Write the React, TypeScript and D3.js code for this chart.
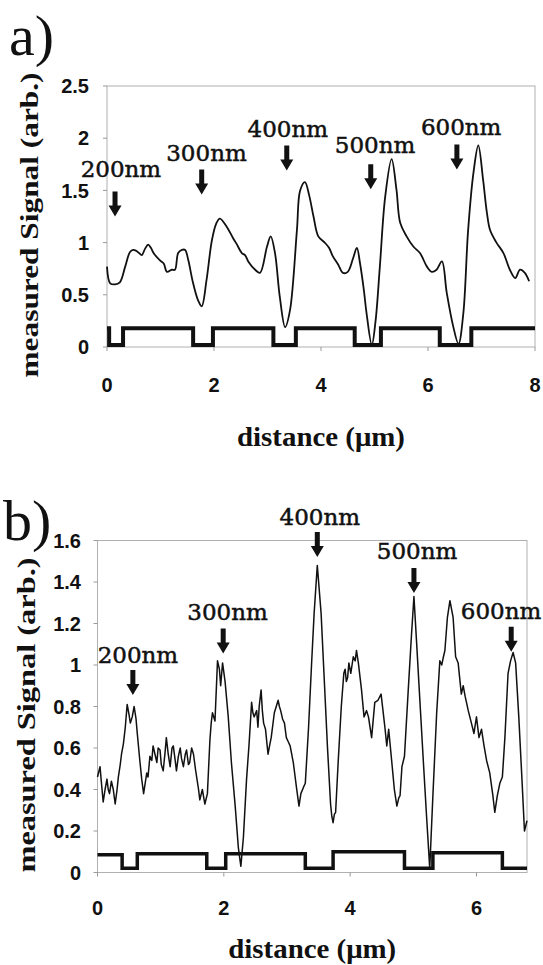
import * as d3 from "d3";

// ---- panel a) ----
const topDist = [0.00,0.06,0.15,0.24,0.34,0.43,0.49,0.55,0.60,0.65,0.71,0.77,0.82,0.87,0.99,1.06,1.12,1.21,1.27,1.33,1.40,1.46,1.52,1.61,1.70,1.77,1.86,1.96,2.04,2.11,2.24,2.36,2.42,2.52,2.58,2.64,2.77,2.86,2.99,3.06,3.14,3.23,3.33,3.42,3.55,3.61,3.70,3.78,3.86,3.95,4.07,4.15,4.22,4.32,4.41,4.50,4.60,4.67,4.73,4.80,4.85,4.95,5.02,5.10,5.20,5.32,5.41,5.48,5.60,5.73,5.85,5.98,6.07,6.16,6.26,6.35,6.47,6.57,6.66,6.75,6.85,6.94,7.03,7.10,7.16,7.28,7.41,7.53,7.63,7.72,7.81,7.89];
const topSignal = [0.77,0.61,0.60,0.62,0.77,0.91,0.93,0.92,0.90,0.88,0.94,0.98,0.95,0.90,0.83,0.80,0.72,0.74,0.74,0.90,0.93,0.93,0.83,0.61,0.45,0.39,0.64,1.02,1.18,1.23,1.15,1.04,0.99,0.90,0.88,0.82,0.74,0.71,0.96,1.06,0.90,0.48,0.19,0.35,1.12,1.50,1.58,1.45,1.25,1.06,1.00,0.95,0.87,0.79,0.71,0.72,0.85,0.95,0.80,0.55,0.33,0.02,0.25,0.77,1.44,1.80,1.51,1.19,1.06,0.96,0.90,0.77,0.72,0.74,0.82,0.52,0.20,0.03,0.32,1.12,1.67,1.93,1.60,1.29,1.12,1.00,0.90,0.74,0.66,0.74,0.71,0.63];
const topStepX = [0, 0.04, 0.30, 1.61, 1.98, 3.11, 3.53, 4.63, 5.12, 6.22, 6.81, 8];
const topStepY = [0.18, 0.02, 0.18, 0.02, 0.18, 0.02, 0.18, 0.02, 0.18, 0.02, 0.18, 0.18];
const topYTicks = [0, 0.5, 1, 1.5, 2, 2.5];
const topXTicks = [0, 2, 4, 6, 8];
const topMarks = ["200nm", "300nm", "400nm", "500nm", "600nm"];
const topArrowX = [0.15, 1.77, 3.36, 4.93, 6.54];
const topArrowY = [1.25, 1.46, 1.69, 1.51, 1.70];
const topLabelX = [0.26, 1.86, 3.38, 5.01, 6.62];
const topLabelY = [1.63, 1.78, 2.01, 1.86, 2.03];

// ---- panel b) ----
const botDist = [0.00,0.04,0.06,0.09,0.12,0.15,0.17,0.19,0.22,0.25,0.28,0.31,0.33,0.36,0.38,0.41,0.44,0.47,0.50,0.52,0.55,0.58,0.61,0.63,0.67,0.70,0.73,0.76,0.78,0.80,0.83,0.86,0.88,0.91,0.94,0.96,0.99,1.01,1.04,1.07,1.09,1.12,1.15,1.18,1.20,1.23,1.25,1.28,1.31,1.33,1.36,1.39,1.41,1.44,1.46,1.49,1.52,1.55,1.57,1.60,1.62,1.66,1.70,1.74,1.78,1.80,1.82,1.86,1.90,1.93,1.95,1.98,2.02,2.07,2.12,2.18,2.23,2.27,2.31,2.36,2.40,2.44,2.46,2.48,2.52,2.54,2.56,2.59,2.61,2.63,2.66,2.70,2.73,2.75,2.80,2.83,2.86,2.88,2.90,2.93,2.96,2.99,3.02,3.05,3.10,3.15,3.19,3.22,3.26,3.29,3.34,3.39,3.43,3.48,3.54,3.59,3.64,3.69,3.71,3.73,3.75,3.77,3.81,3.86,3.90,3.92,3.94,3.96,3.98,4.01,4.03,4.05,4.08,4.10,4.13,4.18,4.22,4.26,4.29,4.34,4.39,4.44,4.49,4.52,4.55,4.58,4.61,4.66,4.70,4.74,4.77,4.79,4.82,4.86,4.92,4.97,5.01,5.05,5.10,5.16,5.21,5.26,5.31,5.37,5.42,5.45,5.47,5.50,5.54,5.58,5.63,5.67,5.71,5.73,5.76,5.79,5.82,5.87,5.92,5.96,6.00,6.04,6.08,6.12,6.16,6.21,6.26,6.29,6.33,6.37,6.41,6.45,6.50,6.54,6.58,6.62,6.67,6.72,6.76,6.80];
const botSignal = [0.46,0.51,0.44,0.34,0.40,0.45,0.40,0.38,0.44,0.40,0.33,0.40,0.46,0.52,0.57,0.62,0.70,0.81,0.76,0.72,0.75,0.80,0.74,0.67,0.54,0.45,0.38,0.44,0.48,0.46,0.56,0.54,0.61,0.57,0.53,0.60,0.59,0.52,0.49,0.58,0.65,0.57,0.51,0.60,0.61,0.54,0.49,0.56,0.60,0.55,0.51,0.57,0.59,0.52,0.53,0.60,0.57,0.50,0.46,0.40,0.35,0.40,0.33,0.38,0.64,0.72,0.77,0.73,1.02,0.98,0.90,1.01,0.92,0.75,0.53,0.32,0.12,0.03,0.17,0.45,0.62,0.82,0.77,0.75,0.78,0.70,0.80,0.88,0.78,0.72,0.69,0.57,0.62,0.65,0.77,0.80,0.83,0.80,0.78,0.74,0.72,0.65,0.63,0.61,0.53,0.41,0.32,0.38,0.41,0.43,0.69,1.01,1.25,1.48,1.25,0.93,0.61,0.33,0.27,0.24,0.28,0.29,0.53,0.80,0.96,0.98,0.92,0.94,1.01,0.96,1.00,1.04,1.02,1.07,1.01,0.88,0.75,0.78,0.75,0.65,0.82,0.83,0.86,0.78,0.70,0.61,0.69,0.53,0.40,0.32,0.36,0.37,0.51,0.56,0.88,1.14,1.33,1.12,0.85,0.53,0.27,0.02,0.37,0.77,1.02,1.00,1.03,1.07,1.23,1.31,1.23,1.04,1.01,0.95,0.86,0.90,0.85,0.78,0.72,0.67,0.75,0.65,0.69,0.61,0.54,0.48,0.37,0.29,0.37,0.43,0.46,0.65,0.96,1.02,1.06,1.01,0.75,0.45,0.20,0.25];
const botStepX = [0, 0.39, 0.63, 1.73, 2.03, 3.29, 3.73, 4.86, 5.31, 6.41, 6.8];
const botStepY = [0.085, 0.02, 0.09, 0.02, 0.09, 0.02, 0.1, 0.02, 0.095, 0.02, 0.02];
const botYTicks = [0, 0.2, 0.4, 0.6, 0.8, 1, 1.2, 1.4, 1.6];
const botXTicks = [0, 2, 4, 6];
const botMarks = ["200nm", "300nm", "400nm", "500nm", "600nm"];
const botArrowX = [0.56, 1.99, 3.48, 5.01, 6.55];
const botArrowY = [0.855, 1.056, 1.52, 1.347, 1.064];
const botLabelX = [0.64, 2.06, 3.52, 5.06, 6.39];
const botLabelY = [1.01, 1.217, 1.675, 1.51, 1.22];

const sansBold = "'Liberation Sans', Arial, sans-serif";
const serif = "'Liberation Serif', 'Times New Roman', serif";

function arrowPath(px: number, py: number) {
  // tip at (px, py), pointing down
  return `M${px - 2.5},${py - 25} L${px + 2.5},${py - 25} L${px + 2.5},${py - 11} L${px + 6.5},${py - 11} L${px},${py} L${px - 6.5},${py - 11} L${px - 2.5},${py - 11} Z`;
}

type PanelProps = {
  dist: number[];
  signal: number[];
  stepX: number[];
  stepY: number[];
  xMax: number;
  yMax: number;
  xRange: [number, number];
  yRange: [number, number];
  xTicks: number[];
  yTicks: number[];
  marks: string[];
  arrowX: number[];
  arrowY: number[];
  labelX: number[];
  labelY: number[];
  smooth: boolean;
  tag: string;
  tagX: number;
  tagY: number;
  yTitleX: number;
  yTitleMid: number;
  yTitleLen: number;
  xTitleY: number;
  xTickY: number;
  yTickRight: number;
  stepWidth: number;
  lineWidth: number;
};

function Panel(p: PanelProps) {
  const x = d3.scaleLinear().domain([0, p.xMax]).range(p.xRange);
  const y = d3.scaleLinear().domain([0, p.yMax]).range(p.yRange);
  const pts = p.dist.map((d, i) => [d, p.signal[i]] as [number, number]);
  const line = d3
    .line<[number, number]>()
    .x((d) => x(d[0]))
    .y((d) => y(d[1]));
  if (p.smooth) line.curve(d3.curveCatmullRom.alpha(0.5));
  const stepPts = p.stepX.map((d, i) => [d, p.stepY[i]] as [number, number]);
  const step = d3
    .line<[number, number]>()
    .x((d) => x(d[0]))
    .y((d) => y(d[1]))
    .curve(d3.curveStepAfter);
  const [x0, x1] = p.xRange;
  const [y0, y1] = p.yRange;
  return (
    <g>
      <text x={p.tagX} y={p.tagY} fontFamily={serif} fontSize={58} fill="#111">
        {p.tag}
      </text>
      {/* frame */}
      <rect x={x0} y={y1} width={x1 - x0} height={y0 - y1} fill="none" stroke="#b0b0b0" strokeWidth={1} />
      {p.yTicks.map((t) => (
        <g key={"y" + t}>
          <line x1={x0 - 4} x2={x0} y1={y(t)} y2={y(t)} stroke="#999" />
          <text
            x={p.yTickRight}
            y={y(t)}
            dy="0.36em"
            textAnchor="end"
            fontFamily={sansBold}
            fontWeight="bold"
            fontSize={20}
            fill="#111"
          >
            {t}
          </text>
        </g>
      ))}
      {p.xTicks.map((t) => (
        <g key={"x" + t}>
          <line x1={x(t)} x2={x(t)} y1={y0} y2={y0 + 4} stroke="#999" />
          <text
            x={x(t)}
            y={p.xTickY}
            dy="0.36em"
            textAnchor="middle"
            fontFamily={sansBold}
            fontWeight="bold"
            fontSize={20}
            fill="#111"
          >
            {t}
          </text>
        </g>
      ))}
      <path d={step(stepPts) || ""} fill="none" stroke="#111" strokeWidth={p.stepWidth} />
      <path d={line(pts) || ""} fill="none" stroke="#111" strokeWidth={p.lineWidth} strokeLinejoin="round" />
      {p.marks.map((m, i) => (
        <g key={m}>
          <path d={arrowPath(x(p.arrowX[i]), y(p.arrowY[i]))} fill="#111" />
          <text
            x={x(p.labelX[i])}
            y={y(p.labelY[i])}
            textAnchor="middle"
            fontFamily="'DejaVu Serif', serif"
            fontSize={23}
            fill="#111"
            stroke="#111"
            strokeWidth={0.5}
          >
            {m}
          </text>
        </g>
      ))}
      <text
        transform={`translate(${p.yTitleX},${p.yTitleMid}) rotate(-90)`}
        textAnchor="middle"
        fontFamily={serif}
        fontWeight="bold"
        fontSize={26}
        textLength={p.yTitleLen}
        lengthAdjust="spacingAndGlyphs"
        fill="#111"
      >
        measured Signal (arb.)
      </text>
      <text
        x={(x0 + x1) / 2}
        y={p.xTitleY}
        textAnchor="middle"
        fontFamily={serif}
        fontWeight="bold"
        fontSize={28}
        textLength={168}
        lengthAdjust="spacingAndGlyphs"
        fill="#111"
      >
        distance (μm)
      </text>
    </g>
  );
}

export default function App() {
  return (
    <svg
      width={543}
      height={965}
      style={{ position: "absolute", left: 0, top: 0, background: "#fff" }}
    >
      <rect width={543} height={965} fill="#fff" />
      <Panel
        dist={topDist}
        signal={topSignal}
        stepX={topStepX}
        stepY={topStepY}
        xMax={8}
        yMax={2.5}
        xRange={[107, 535]}
        yRange={[347, 86]}
        xTicks={topXTicks}
        yTicks={topYTicks}
        marks={topMarks}
        arrowX={topArrowX}
        arrowY={topArrowY}
        labelX={topLabelX}
        labelY={topLabelY}
        smooth={true}
        tag="a)"
        tagX={9}
        tagY={55}
        yTitleX={38}
        yTitleMid={225}
        yTitleLen={305}
        xTitleY={446}
        xTickY={385}
        yTickRight={89}
        stepWidth={4}
        lineWidth={1.8}
      />
      <Panel
        dist={botDist}
        signal={botSignal}
        stepX={botStepX}
        stepY={botStepY}
        xMax={6.8}
        yMax={1.6}
        xRange={[97.5, 527]}
        yRange={[872.5, 540.5]}
        xTicks={botXTicks}
        yTicks={botYTicks}
        marks={botMarks}
        arrowX={botArrowX}
        arrowY={botArrowY}
        labelX={botLabelX}
        labelY={botLabelY}
        smooth={false}
        tag="b)"
        tagX={3}
        tagY={540}
        yTitleX={35}
        yTitleMid={715}
        yTitleLen={315}
        xTitleY={958}
        xTickY={908}
        yTickRight={81}
        stepWidth={3.5}
        lineWidth={1.5}
      />
    </svg>
  );
}
